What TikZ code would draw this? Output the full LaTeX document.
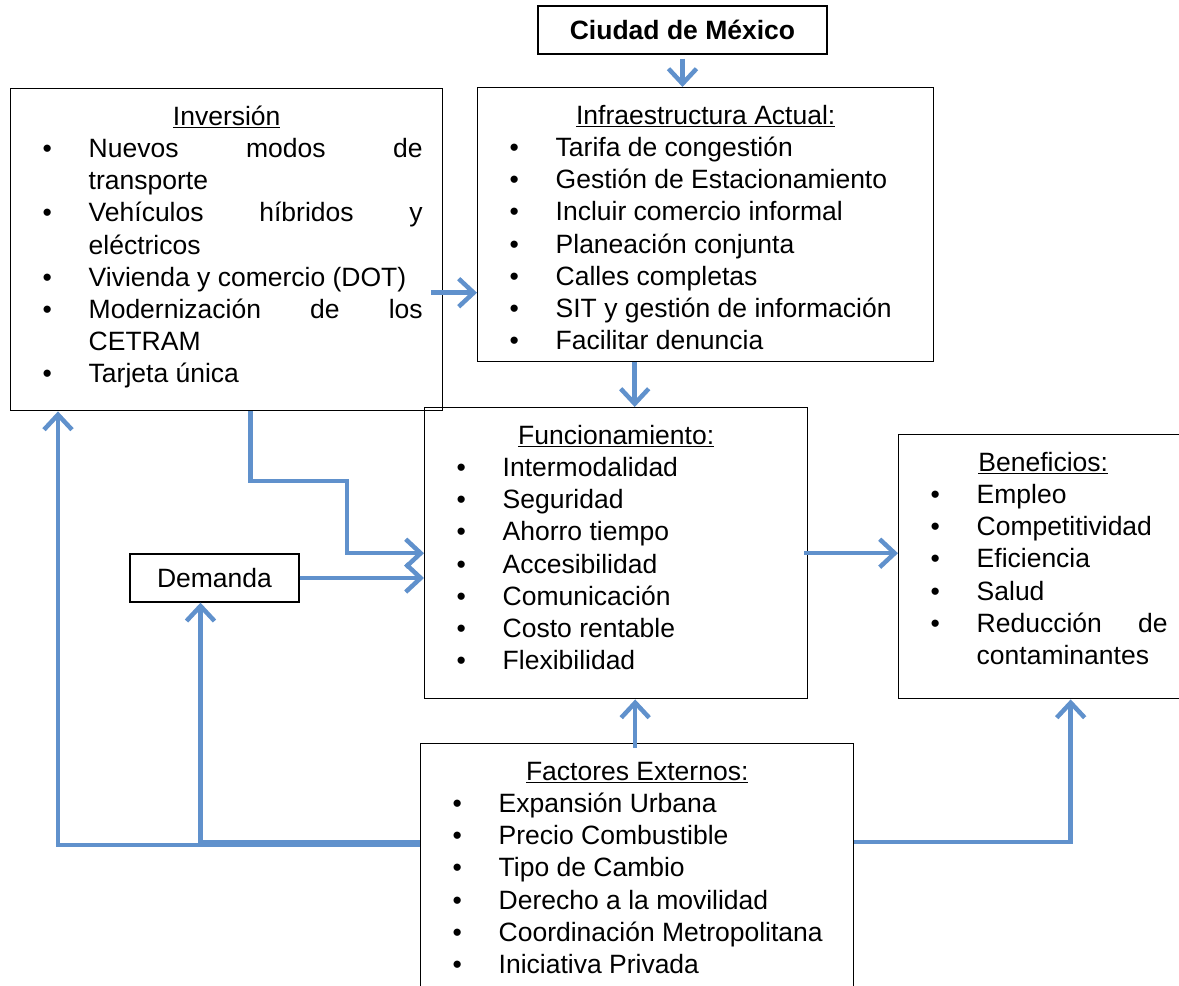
\documentclass[tikz,border=0pt]{standalone}
\usepackage{fontspec}
\setmainfont{Liberation Sans}
\usetikzlibrary{arrows.meta}
\definecolor{linkblue}{RGB}{96,145,204}
\tikzset{boxed/.style={
        draw=black, line width=1.4pt,
        inner xsep=20pt, inner ysep=14pt, anchor=north west
    },
    tag/.style={
        draw=black, line width=1.4pt,
        font=\fontsize{26.5}{32.2}\selectfont
    },
    link/.style={
        draw=linkblue, line width=4.5pt,
        -{Straight Barb[length=15pt,width=28pt]}
    }
}
\newenvironment{dotlist}{\begin{list}{\textbullet}{%
    \setlength{\leftmargin}{58pt}\setlength{\labelwidth}{46pt}%
    \setlength{\labelsep}{0pt}\setlength{\itemsep}{0pt}%
    \setlength{\parsep}{0pt}\setlength{\topsep}{0pt}%
    \setlength{\partopsep}{0pt}\renewcommand{\makelabel}[1]{##1\hfill}}}%
  {\end{list}}
\newcommand{\boxtext}[4]{\parbox[t][#2][t]{#1}{%
    \fontsize{26.5}{32.2}\selectfont\hyphenpenalty=10000\relax
    {\centering\strut\underline{#3}\par}%
    \begin{dotlist}#4\end{dotlist}}}

\begin{document}
\begin{tikzpicture}[x=1pt,y=-1pt]
        \useasboundingbox (0,0) rectangle (1179,986);
        \node[tag, minimum width=289pt, minimum height=48pt,
            font=\fontsize{26.5}{32.2}\selectfont\bfseries] (city) at (682.5,30) {Ciudad de México};
        \node[boxed] (inv) at (10,88) {\boxtext{392pt}{294pt}{Inversión}{%
            \item Nuevos modos de\linebreak transporte
            \item Vehículos híbridos y\linebreak eléctricos
            \item Vivienda y comercio (DOT)
            \item Modernización de los\linebreak CETRAM
            \item Tarjeta única}};
        \node[boxed] (infra) at (477,87) {\boxtext{416pt}{246pt}{Infraestructura Actual:}{%
            \item Tarifa de congestión
            \item Gestión de Estacionamiento
            \item Incluir comercio informal
            \item Planeación conjunta
            \item Calles completas
            \item SIT y gestión de información
            \item Facilitar denuncia}};
        \node[boxed] (func) at (424,407) {\boxtext{343pt}{263pt}{Funcionamiento:}{%
            \item Intermodalidad
            \item Seguridad
            \item Ahorro tiempo
            \item Accesibilidad
            \item Comunicación
            \item Costo rentable
            \item Flexibilidad}};
        \node[boxed] (ben) at (898,434) {\boxtext{249pt}{236pt}{Beneficios:}{%
            \item Empleo
            \item Competitividad
            \item Eficiencia
            \item Salud
            \item Reducción de\linebreak contaminantes}};
        \node[boxed] (fact) at (420,743) {\boxtext{393pt}{232pt}{Factores Externos:}{%
            \item Expansión Urbana
            \item Precio Combustible
            \item Tipo de Cambio
            \item Derecho a la movilidad
            \item Coordinación Metropolitana
            \item Iniciativa Privada}};
        \node[tag, minimum width=169pt, minimum height=48pt] (dem) at (214.5,578) {Demanda};
        \coordinate (invbend) at (347,481);
        % connectors
        \draw[link] ([yshift=-4pt]city.south) -- (city.south |- infra.north);
        \draw[link] ([xshift=-12pt,yshift=-43pt]inv.east) -- ([yshift=-43pt]inv.east -| infra.west);
        \draw[link] ([xshift=-71pt]infra.south) -- ([xshift=-71pt]infra.south |- func.north);
        \draw[link] ([xshift=24pt]inv.south) |- (invbend) |- (func.west);
        \draw[link] (dem.east) -- (dem.east -| func.west);
        \draw[link] ([xshift=-4pt]func.east) -- (func.east -| ben.west);
        \draw[link] ([xshift=-2pt,yshift=-5pt]fact.north) -- ([xshift=-2pt]fact.north |- func.south);
        \draw[link] ([yshift=-102pt]fact.north west) -| ([xshift=48pt]inv.south west);
        \draw[link] ([yshift=-99pt]fact.north west) -| ([xshift=-14pt]dem.south);
        \draw[link] ([yshift=-99pt]fact.north east) -| ([xshift=27.5pt]ben.south);
\end{tikzpicture}
\end{document}
